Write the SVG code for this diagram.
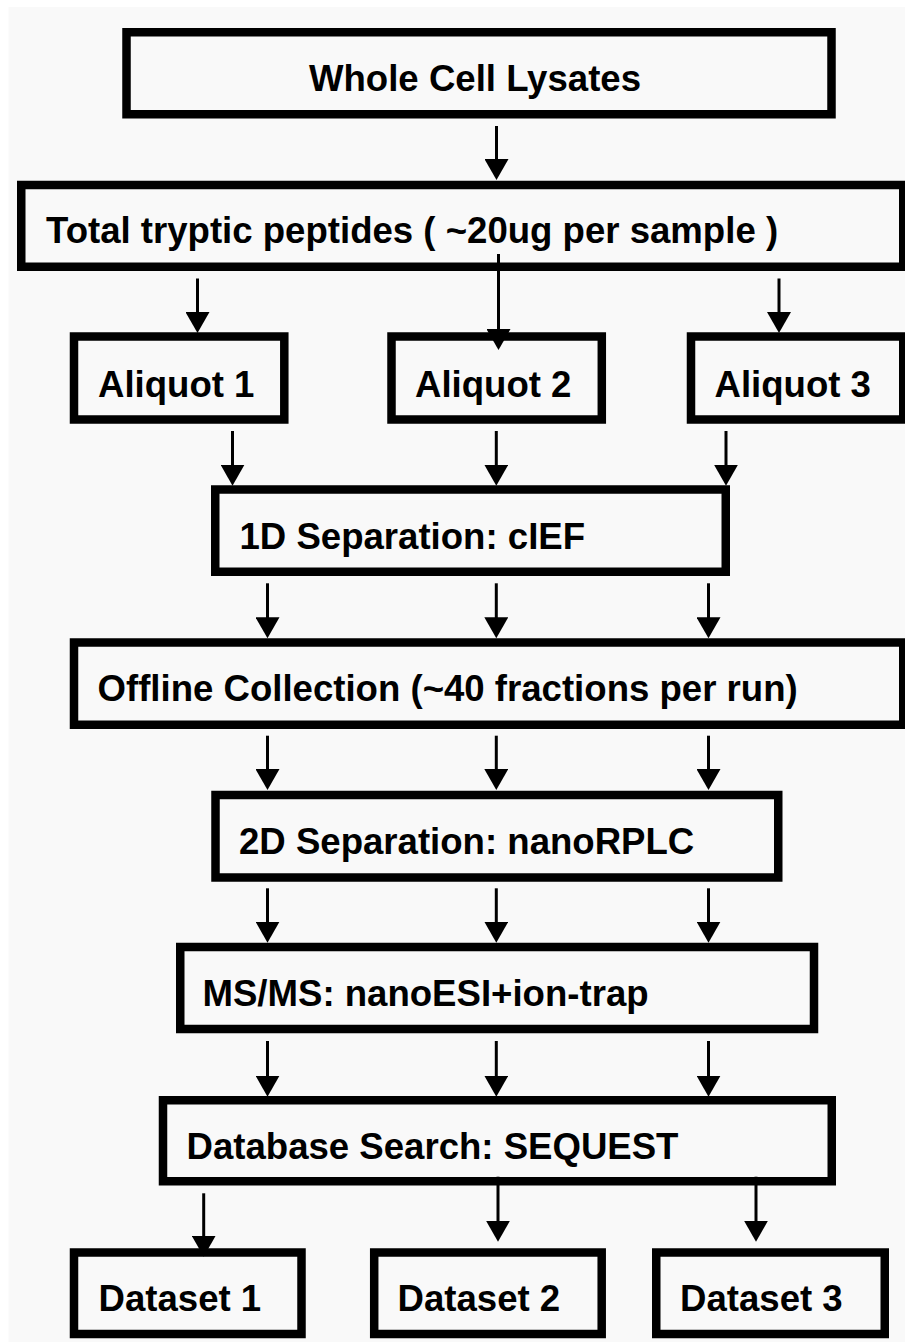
<svg xmlns="http://www.w3.org/2000/svg" width="905" height="1342" viewBox="0 0 905 1342">
  <style>
    .box { fill: #f9f9f9; stroke: #000; stroke-width: 8.5; }
    .lbl { font-family: "Liberation Sans", Arial, Helvetica, sans-serif; font-weight: bold; font-size: 36.6px; fill: #000; }
    .conn path { fill: none; stroke: #000; stroke-width: 3; marker-end: url(#head); }
  </style>
  <defs>
    <marker id="head" markerUnits="userSpaceOnUse" markerWidth="22" markerHeight="24" refX="3" refY="12" orient="auto">
      <path d="M0,0 L21,12 L0,24 z" fill="#000"/>
    </marker>
  </defs>

  <!-- page -->
  <rect x="0" y="0" width="905" height="1342" fill="#fff"/>
  <rect x="8.5" y="7" width="896.5" height="1335" fill="#f9f9f9"/>

  <!-- nodes -->
  <g id="lysates">
    <rect class="box" x="126.5" y="32.25" width="705" height="82"/>
    <text class="lbl" x="309" y="91">Whole Cell Lysates</text>
  </g>
  <g id="peptides">
    <rect class="box" x="21.25" y="185" width="882" height="81.75"/>
    <text class="lbl" x="46" y="243">Total tryptic peptides ( ~20ug per sample )</text>
  </g>
  <g id="aliquot1">
    <rect class="box" x="74" y="336.5" width="210.3" height="83"/>
    <text class="lbl" x="98" y="397">Aliquot 1</text>
  </g>
  <g id="aliquot2">
    <rect class="box" x="391.5" y="336.5" width="210.3" height="83"/>
    <text class="lbl" x="415" y="397">Aliquot 2</text>
  </g>
  <g id="aliquot3">
    <rect class="box" x="691" y="336.5" width="212.25" height="83"/>
    <text class="lbl" x="714.5" y="397">Aliquot 3</text>
  </g>
  <g id="cief">
    <rect class="box" x="215.25" y="489.5" width="510.5" height="82.25"/>
    <text class="lbl" x="239.5" y="548.5">1D Separation: cIEF</text>
  </g>
  <g id="collection">
    <rect class="box" x="74" y="642.5" width="829.25" height="82.25"/>
    <text class="lbl" x="97.5" y="701.3">Offline Collection (~40 fractions per run)</text>
  </g>
  <g id="rplc">
    <rect class="box" x="215.5" y="795" width="562.75" height="82.5"/>
    <text class="lbl" x="239" y="853.5">2D Separation: nanoRPLC</text>
  </g>
  <g id="msms">
    <rect class="box" x="180.25" y="947" width="633.75" height="82"/>
    <text class="lbl" x="202.5" y="1006.3">MS/MS: nanoESI+ion-trap</text>
  </g>
  <g id="search">
    <rect class="box" x="163" y="1100.25" width="668.75" height="81"/>
    <text class="lbl" x="186.5" y="1159.3">Database Search: SEQUEST</text>
  </g>
  <g id="dataset1">
    <rect class="box" x="74" y="1252.5" width="227.5" height="81.5"/>
    <text class="lbl" x="98.5" y="1311.3">Dataset 1</text>
  </g>
  <g id="dataset2">
    <rect class="box" x="374.2" y="1252.5" width="227.5" height="81.5"/>
    <text class="lbl" x="397.5" y="1311.3">Dataset 2</text>
  </g>
  <g id="dataset3">
    <rect class="box" x="656.25" y="1252.5" width="228.5" height="81.5"/>
    <text class="lbl" x="680" y="1311.3">Dataset 3</text>
  </g>

  <!-- connectors: each line stops 18px short of the tip, the marker covers the rest -->
  <g id="connectors" class="conn">
    <path d="M496.5,126 V162"/>
    <path d="M197.5,278.5 V315"/>
    <path d="M498.5,254 V332"/>
    <path d="M779,278.5 V315"/>
    <path d="M232.5,431 V467.7"/>
    <path d="M496.3,431 V467.7"/>
    <path d="M726,431 V467.7"/>
    <path d="M267.5,583.3 V620.3"/>
    <path d="M496.3,583.3 V620.3"/>
    <path d="M708.5,583.3 V620.3"/>
    <path d="M267.5,735.7 V772"/>
    <path d="M496.3,735.7 V772"/>
    <path d="M708.5,735.7 V772"/>
    <path d="M267.5,888.3 V924.7"/>
    <path d="M496.3,888.3 V924.7"/>
    <path d="M708.5,888.3 V924.7"/>
    <path d="M267.5,1041 V1078.7"/>
    <path d="M496.3,1041 V1078.7"/>
    <path d="M708.5,1041 V1078.7"/>
    <path d="M203.7,1193.3 V1238.7"/>
    <path d="M498,1176.7 V1223.7"/>
    <path d="M756,1176.7 V1223.7"/>
  </g>
</svg>
